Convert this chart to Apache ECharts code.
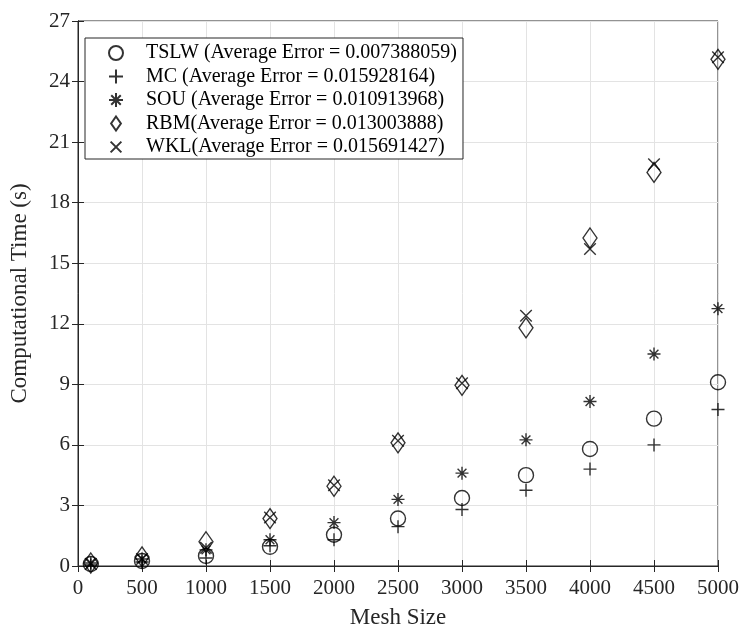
<!DOCTYPE html>
<html>
<head>
<meta charset="utf-8">
<title>Computational Time</title>
<style>
  html, body { margin: 0; padding: 0; background: #fff; }
  #chart { width: 742px; height: 634px; }
</style>
<script src="https://cdn.jsdelivr.net/npm/echarts@6/dist/echarts.min.js"></script>
</head>
<body>
<div id="chart"></div>
<script>
// mesh sizes on the x axis
var meshSizes = [100, 500, 1000, 1500, 2000, 2500, 3000, 3500, 4000, 4500, 5000];

// computational time (s)
var tslw = [0.1, 0.25, 0.5, 0.95, 1.55, 2.35, 3.37, 4.5, 5.8, 7.3, 9.1];
var mc   = [0.05, 0.2, 0.4, 1.0, 1.3, 1.95, 2.8, 3.75, 4.8, 6.0, 7.75];
var sou  = [0.15, 0.35, 0.8, 1.3, 2.15, 3.3, 4.6, 6.25, 8.15, 10.5, 12.75];
var rbm  = [0.15, 0.45, 1.2, 2.35, 3.95, 6.1, 8.95, 11.8, 16.25, 19.5, 25.1];
var wkl  = [0.1, 0.35, 0.9, 2.4, 4.0, 6.2, 9.05, 12.4, 15.7, 19.9, 25.2];

var seriesNames = [
  'TSLW (Average Error = 0.007388059)',
  'MC (Average Error = 0.015928164)',
  'SOU (Average Error = 0.010913968)',
  'RBM(Average Error = 0.013003888)',
  'WKL(Average Error = 0.015691427)'
];

var FONT = '"Liberation Serif", "Times New Roman", serif';
var INK = '#262626';

var plusPath = 'path://M5,0L5,10M0,5L10,5';
var starPath = 'path://M5,0L5,10M0,5L10,5M1.6,1.6L8.4,8.4M8.4,1.6L1.6,8.4';
// the two extra moves pad the box so the cross draws a bit smaller
var crossPath = 'path://M-1.5,-1.5M11.5,11.5M0,0L10,10M10,0L0,10';
var diamondPath = 'path://M7,0L14,10L7,20L0,10Z';

function pairs(vals) {
  var out = [];
  for (var i = 0; i < meshSizes.length; i++) {
    out.push([meshSizes[i], vals[i]]);
  }
  return out;
}

function makeSeries(name, vals, symbol, size) {
  return {
    name: name,
    type: 'scatter',
    data: pairs(vals),
    symbol: symbol,
    symbolSize: size,
    itemStyle: {
      color: 'rgba(255,255,255,0)',
      borderColor: '#000',
      borderWidth: 1.4
    },
    emphasis: { disabled: true },
    z: 5
  };
}

var chart = echarts.init(document.getElementById('chart'), null, { renderer: 'canvas' });

var option = {
  backgroundColor: '#fff',
  animation: false,
  textStyle: { fontFamily: FONT },
  grid: {
    left: 68,
    right: 23,
    top: 21,
    bottom: 60,
    show: true,
    borderColor: INK,
    borderWidth: 1,
    containLabel: false
  },
  legend: {
    orient: 'vertical',
    left: 85,
    top: 38,
    itemGap: 3.5,
    itemWidth: 14,
    itemHeight: 14,
    padding: [5, 6, 2, 23],
    backgroundColor: '#fff',
    borderColor: INK,
    borderWidth: 1,
    borderRadius: 0,
    textStyle: { fontFamily: FONT, fontSize: 20, lineHeight: 20, color: '#000', padding: [0, 0, 0, 18] },
    data: seriesNames
  },
  xAxis: [{
    type: 'value',
    min: 0,
    max: 5000,
    interval: 500,
    name: 'Mesh Size',
    nameLocation: 'middle',
    nameGap: 40,
    nameTextStyle: { fontFamily: FONT, fontSize: 23, color: INK },
    axisLine: { lineStyle: { color: INK } },
    axisTick: { inside: true, length: 6, lineStyle: { color: INK } },
    axisLabel: {
      fontFamily: FONT, fontSize: 21, color: INK, margin: 12,
      formatter: function (v) { return String(v); }
    },
    splitLine: { show: true, lineStyle: { color: '#e3e3e3' } }
  }, {
    type: 'value',
    position: 'top',
    min: 0,
    max: 5000,
    interval: 500,
    axisLine: { show: true, lineStyle: { color: INK } },
    axisTick: { inside: true, length: 6, lineStyle: { color: INK } },
    axisLabel: { show: false },
    splitLine: { show: false }
  }],
  yAxis: [{
    type: 'value',
    min: 0,
    max: 27,
    interval: 3,
    name: 'Computational Time (s)',
    nameLocation: 'middle',
    nameGap: 47,
    nameTextStyle: { fontFamily: FONT, fontSize: 23, color: INK },
    axisLine: { show: true, lineStyle: { color: INK } },
    axisTick: { show: true, inside: true, length: 6, lineStyle: { color: INK } },
    axisLabel: { fontFamily: FONT, fontSize: 21, color: INK, margin: 8 },
    splitLine: { show: true, lineStyle: { color: '#e3e3e3' } }
  }, {
    type: 'value',
    position: 'right',
    min: 0,
    max: 27,
    interval: 3,
    axisLine: { show: true, lineStyle: { color: INK } },
    axisTick: { show: true, inside: true, length: 6, lineStyle: { color: INK } },
    axisLabel: { show: false },
    splitLine: { show: false }
  }],
  series: [
    makeSeries(seriesNames[0], tslw, 'circle', 15),
    makeSeries(seriesNames[1], mc, plusPath, 13),
    makeSeries(seriesNames[2], sou, starPath, 13),
    makeSeries(seriesNames[3], rbm, diamondPath, [14, 20]),
    makeSeries(seriesNames[4], wkl, crossPath, 15)
  ]
};

chart.setOption(option);
</script>
</body>
</html>
